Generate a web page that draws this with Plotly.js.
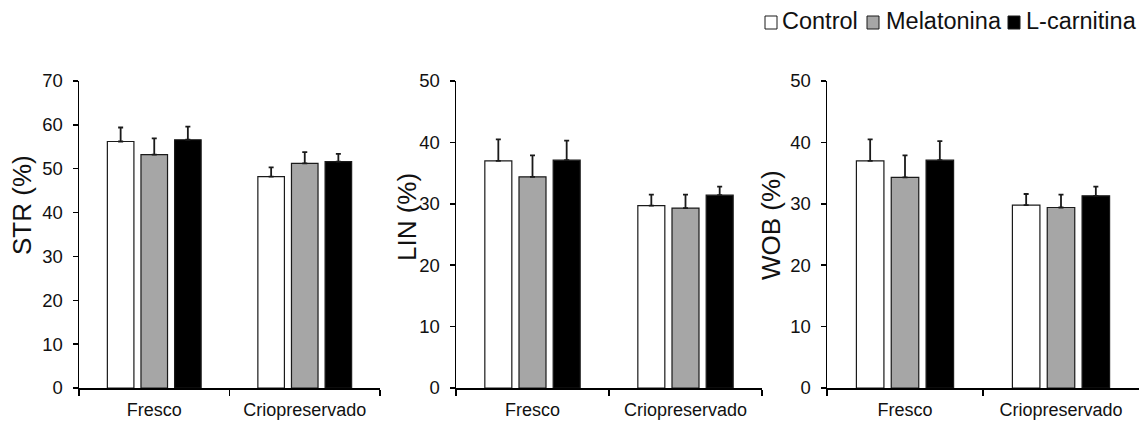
<!DOCTYPE html>
<html><head><meta charset="utf-8">
<script src="https://cdn.plot.ly/plotly-3.0.1.min.js"></script>
<style>html,body{margin:0;padding:0;background:#fff}</style>
</head><body><div id="chart" style="width:1139px;height:423px"></div>
<script>
// ---- data ----
const categories = ['Fresco', 'Criopreservado'];
const seriesNames = ['Control', 'Melatonina', 'L-carnitina'];
const seriesColors = ['#ffffff', '#a6a6a6', '#000000'];
const panelTitles = ['STR (%)', 'LIN (%)', 'WOB (%)'];
const panelMax = [70, 50, 50];

const strControl = [56.2, 48.2];
const strMelatonina = [53.2, 51.2];
const strLcarnitina = [56.6, 51.6];
const strControlErr = [3.2, 2.1];
const strMelatoninaErr = [3.7, 2.6];
const strLcarnitinaErr = [3.0, 1.8];

const linControl = [37.0, 29.7];
const linMelatonina = [34.4, 29.3];
const linLcarnitina = [37.1, 31.4];
const linControlErr = [3.5, 1.8];
const linMelatoninaErr = [3.5, 2.2];
const linLcarnitinaErr = [3.2, 1.4];

const wobControl = [37.0, 29.8];
const wobMelatonina = [34.3, 29.4];
const wobLcarnitina = [37.1, 31.3];
const wobControlErr = [3.5, 1.8];
const wobMelatoninaErr = [3.6, 2.1];
const wobLcarnitinaErr = [3.1, 1.5];

const panels = [
  {vals: [strControl, strMelatonina, strLcarnitina], errs: [strControlErr, strMelatoninaErr, strLcarnitinaErr]},
  {vals: [linControl, linMelatonina, linLcarnitina], errs: [linControlErr, linMelatoninaErr, linLcarnitinaErr]},
  {vals: [wobControl, wobMelatonina, wobLcarnitina], errs: [wobControlErr, wobMelatoninaErr, wobLcarnitinaErr]}
];

// ---- layout helpers ----
const W = 1139, H = 423;
const px = v => v / W;
const py = v => 1 - v / H;
const FONT = 'Liberation Sans, Arial, Helvetica, sans-serif';
const xDomains = [[px(79), px(380)], [px(456), px(762)], [px(827), 1]];
const yDomain = [py(388), py(81)];
const titlePos = [[22, 205], [407, 217], [771, 225]];

const traces = [];
panels.forEach((p, i) => {
  const sfx = i === 0 ? '' : String(i + 1);
  p.vals.forEach((v, s) => {
    traces.push({
      type: 'bar', name: seriesNames[s], x: categories, y: v,
      xaxis: 'x' + sfx, yaxis: 'y' + sfx, showlegend: false,
      marker: {color: seriesColors[s], line: {color: '#1a1a1a', width: 1.2}},
      error_y: {type: 'data', symmetric: false, array: p.errs[s], arrayminus: p.errs[s].map(() => 0),
                color: '#1a1a1a', thickness: 1.8, width: 2.5}
    });
  });
});

const layout = {
  width: W, height: H,
  margin: {l: 0, r: 0, t: 0, b: 0},
  paper_bgcolor: '#fff', plot_bgcolor: '#fff',
  font: {family: FONT, color: '#111'},
  barmode: 'group', bargap: 0.33, bargroupgap: 0.21,
  showlegend: false,
  annotations: [], shapes: []
};

panels.forEach((p, i) => {
  const sfx = i === 0 ? '' : String(i + 1);
  layout['xaxis' + sfx] = {
    domain: xDomains[i], anchor: 'y' + sfx, type: 'category', range: [-0.5, 1.5],
    showline: true, linecolor: '#000', linewidth: 1.5, showgrid: false, zeroline: false,
    ticks: 'outside', tickson: 'boundaries', ticklen: 6, tickwidth: 1.5, tickcolor: '#000',
    tickfont: {size: 18, family: FONT, color: '#111'}, ticklabelstandoff: 5, fixedrange: true
  };
  layout['yaxis' + sfx] = {
    domain: yDomain, anchor: 'x' + sfx, range: [0, panelMax[i]], dtick: 10, tick0: 0,
    showline: true, linecolor: '#000', linewidth: 1.5, showgrid: false, zeroline: false,
    ticks: 'outside', ticklen: 5, tickwidth: 1.5, tickcolor: '#000',
    tickfont: {size: 18.5, family: FONT, color: '#111'}, ticklabelstandoff: 6, fixedrange: true
  };
  layout.annotations.push({
    text: panelTitles[i], xref: 'paper', yref: 'paper',
    x: px(titlePos[i][0]), y: py(titlePos[i][1]), xanchor: 'center', yanchor: 'middle',
    textangle: -90, showarrow: false, font: {size: 26, family: FONT, color: '#111'}
  });
});

// custom legend (top right)
const legSq = [[765, 777], [867, 879], [1008, 1020]];
const legTx = [780, 884, 1024];
seriesNames.forEach((n, s) => {
  layout.shapes.push({
    type: 'rect', xref: 'paper', yref: 'paper',
    x0: px(legSq[s][0]), x1: px(legSq[s][1]), y0: py(29), y1: py(16),
    fillcolor: seriesColors[s], line: {color: '#1a1a1a', width: 1}
  });
  layout.annotations.push({
    text: n, xref: 'paper', yref: 'paper', x: px(legTx[s]), y: py(21),
    xanchor: 'left', yanchor: 'middle', showarrow: false,
    font: {size: 23.5, family: FONT, color: '#111'}
  });
});

Plotly.newPlot('chart', traces, layout, {displayModeBar: false, staticPlot: true});
</script>
</body></html>
